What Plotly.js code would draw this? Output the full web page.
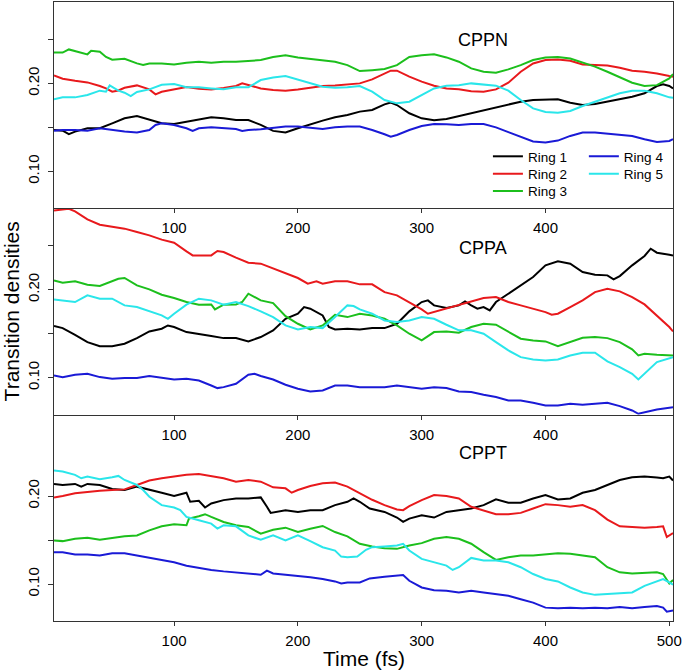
<!DOCTYPE html>
<html><head><meta charset="utf-8">
<script src="https://cdn.plot.ly/plotly-3.0.1.min.js"></script>
<style>html,body{margin:0;padding:0;background:#fff}</style>
</head><body>
<div id="chart" style="width:685px;height:672px"></div>
<script>
const ringNames = ["Ring 1", "Ring 2", "Ring 3", "Ring 4", "Ring 5"];
const ringColors = ["#000000", "#e8191c", "#1cbf1c", "#1a1ad6", "#2ae6ea"];
const panelNames = ["CPPN", "CPPA", "CPPT"];
const yTickVals = [0.10, 0.15, 0.20, 0.25];
const yTickText = ["0.10", "", "0.20", ""];
const xTickVals = [100, 200, 300, 400, 500];

// [time (fs), transition density]
const cppnRing1 = [[3,0.147],[10,0.1463],[15,0.1422],[20,0.1452],[30,0.149],[40,0.149],[50,0.1546],[60,0.1603],[70,0.163],[80,0.1592],[90,0.1546],[100,0.1539],[110,0.1565],[120,0.1592],[130,0.1614],[140,0.1603],[150,0.1584],[160,0.1584],[170,0.1528],[180,0.146],[190,0.1441],[200,0.149],[210,0.1535],[220,0.1577],[230,0.1614],[240,0.1641],[250,0.1679],[260,0.1698],[270,0.1762],[275,0.1781],[280,0.1754],[290,0.166],[300,0.1603],[310,0.158],[320,0.1596],[330,0.163],[340,0.166],[350,0.1698],[360,0.1728],[370,0.1762],[380,0.1792],[390,0.1811],[400,0.1811],[410,0.1819],[420,0.1781],[430,0.1754],[440,0.1766],[450,0.1792],[460,0.1819],[470,0.1849],[480,0.1887],[490,0.197],[495,0.1989],[500,0.197],[503,0.1943]];
const cppnRing2 = [[3,0.209],[10,0.2053],[20,0.203],[30,0.2011],[40,0.197],[45,0.1943],[50,0.1906],[55,0.192],[60,0.195],[70,0.1977],[80,0.1932],[85,0.1875],[90,0.1905],[100,0.1936],[110,0.196],[120,0.194],[130,0.193],[140,0.1947],[150,0.197],[155,0.2],[160,0.198],[170,0.1943],[180,0.1924],[190,0.1917],[200,0.193],[210,0.195],[220,0.197],[230,0.1977],[240,0.1992],[250,0.2],[260,0.2045],[270,0.2113],[275,0.2144],[280,0.2144],[290,0.2076],[300,0.202],[310,0.1974],[320,0.1943],[330,0.1932],[340,0.191],[350,0.1906],[360,0.1932],[370,0.2008],[380,0.2132],[390,0.2227],[400,0.2265],[410,0.2272],[420,0.2257],[430,0.2215],[440,0.2208],[450,0.2204],[460,0.2178],[470,0.2144],[480,0.2132],[490,0.2113],[500,0.2083],[503,0.2076]];
const cppnRing3 = [[3,0.235],[10,0.235],[15,0.2386],[20,0.237],[30,0.233],[33,0.237],[40,0.236],[45,0.23],[50,0.227],[60,0.228],[70,0.2227],[75,0.221],[80,0.2227],[90,0.2227],[100,0.2215],[110,0.2234],[120,0.2246],[130,0.2234],[140,0.2246],[150,0.2246],[160,0.2253],[170,0.2265],[180,0.23],[190,0.232],[200,0.2295],[210,0.228],[220,0.2265],[230,0.2246],[240,0.2208],[250,0.214],[260,0.215],[270,0.2163],[280,0.2208],[290,0.23],[300,0.232],[310,0.233],[320,0.2295],[330,0.2246],[340,0.217],[350,0.2132],[360,0.212],[370,0.2159],[380,0.2208],[390,0.2265],[400,0.2295],[410,0.23],[420,0.2283],[430,0.2238],[440,0.219],[450,0.2132],[460,0.2068],[470,0.2008],[480,0.197],[490,0.198],[500,0.2057],[503,0.2106]];
const cppnRing4 = [[3,0.1463],[10,0.147],[20,0.147],[30,0.1463],[40,0.149],[50,0.147],[60,0.1452],[70,0.1441],[80,0.147],[85,0.1528],[90,0.1546],[100,0.1528],[110,0.149],[115,0.146],[120,0.149],[130,0.15],[140,0.149],[150,0.1482],[155,0.146],[160,0.147],[170,0.1478],[180,0.149],[190,0.1509],[200,0.1509],[210,0.1497],[220,0.1482],[230,0.15],[240,0.1509],[250,0.1509],[260,0.147],[270,0.1422],[275,0.1395],[280,0.1414],[290,0.147],[300,0.1516],[310,0.1539],[320,0.1535],[330,0.1528],[340,0.1539],[350,0.1539],[360,0.15],[370,0.1444],[380,0.1388],[390,0.1339],[400,0.1327],[410,0.135],[420,0.1403],[430,0.1441],[440,0.1441],[450,0.1426],[460,0.1414],[470,0.1403],[480,0.1365],[490,0.1335],[500,0.1346],[503,0.1365]];
const cppnRing5 = [[3,0.1819],[10,0.1841],[20,0.1841],[30,0.1868],[40,0.1917],[45,0.1906],[48,0.1977],[55,0.1917],[60,0.1894],[65,0.1856],[70,0.1902],[80,0.1932],[90,0.1985],[100,0.1992],[110,0.1955],[120,0.1955],[130,0.1943],[140,0.1932],[150,0.1955],[160,0.1955],[170,0.2038],[180,0.2068],[190,0.2083],[200,0.2045],[210,0.2],[220,0.1962],[230,0.1951],[240,0.1955],[250,0.197],[260,0.1906],[270,0.1811],[280,0.1773],[290,0.1792],[300,0.1868],[310,0.1943],[320,0.1974],[330,0.198],[340,0.2],[350,0.1989],[360,0.1974],[370,0.1917],[380,0.1811],[390,0.1716],[400,0.1675],[410,0.1667],[420,0.1686],[430,0.1743],[440,0.1792],[450,0.1841],[460,0.1887],[470,0.1917],[480,0.1917],[490,0.1887],[500,0.1841],[503,0.1838]];

const cppaRing1 = [[3,0.1587],[10,0.1564],[20,0.1488],[30,0.1405],[40,0.1359],[50,0.1359],[60,0.1386],[70,0.145],[80,0.1526],[90,0.1557],[95,0.1594],[100,0.1576],[110,0.1519],[120,0.15],[130,0.1473],[140,0.145],[150,0.145],[160,0.1413],[170,0.1462],[180,0.1538],[190,0.167],[200,0.1727],[205,0.1803],[210,0.1784],[220,0.1708],[225,0.1576],[230,0.1549],[240,0.1557],[250,0.1549],[260,0.1564],[270,0.1564],[280,0.1613],[290,0.1754],[300,0.186],[305,0.1879],[310,0.1822],[320,0.1792],[330,0.1822],[335,0.1867],[340,0.1822],[345,0.1784],[350,0.1803],[355,0.1765],[360,0.186],[370,0.1955],[380,0.2049],[390,0.2144],[400,0.2277],[410,0.2322],[420,0.2296],[430,0.2201],[440,0.2171],[450,0.2163],[455,0.2117],[460,0.2155],[470,0.2277],[480,0.2383],[485,0.2466],[490,0.2421],[500,0.2398],[503,0.239]];
const cppaRing2 = [[3,0.29],[10,0.2913],[15,0.292],[20,0.289],[25,0.2845],[30,0.28],[40,0.2739],[50,0.2713],[60,0.2694],[70,0.2656],[80,0.2618],[90,0.2569],[100,0.2534],[110,0.2436],[115,0.239],[120,0.239],[130,0.239],[135,0.244],[140,0.2428],[150,0.2364],[160,0.2307],[170,0.2296],[180,0.2239],[190,0.2182],[200,0.2133],[208,0.2068],[215,0.2095],[220,0.2068],[230,0.2095],[240,0.2095],[250,0.2061],[260,0.2061],[270,0.1973],[280,0.1936],[290,0.186],[300,0.1776],[305,0.1727],[310,0.1746],[320,0.1784],[330,0.1822],[340,0.186],[350,0.1905],[360,0.1917],[370,0.186],[380,0.1822],[390,0.1784],[400,0.1746],[405,0.1716],[410,0.1727],[420,0.1803],[430,0.1879],[440,0.1973],[450,0.2011],[460,0.1981],[470,0.1917],[480,0.1833],[490,0.1708],[500,0.1576],[503,0.1526]];
const cppaRing3 = [[3,0.2106],[10,0.208],[20,0.2095],[30,0.2057],[40,0.2042],[50,0.2095],[55,0.2125],[60,0.2133],[70,0.2049],[80,0.2004],[90,0.1943],[100,0.1905],[110,0.186],[120,0.183],[130,0.1833],[133,0.1776],[140,0.183],[150,0.1833],[155,0.186],[160,0.1955],[170,0.1879],[180,0.1848],[190,0.17],[200,0.1613],[210,0.1549],[220,0.1594],[230,0.1716],[240,0.1689],[250,0.1727],[260,0.1708],[270,0.167],[280,0.1594],[290,0.15],[300,0.1424],[310,0.1519],[320,0.1526],[330,0.1511],[340,0.1576],[350,0.1613],[360,0.1602],[370,0.1519],[380,0.1443],[390,0.1424],[400,0.1413],[410,0.1359],[420,0.1405],[430,0.1454],[440,0.1462],[450,0.145],[460,0.1405],[470,0.1322],[475,0.1253],[480,0.1272],[490,0.1261],[503,0.1253]];
const cppaRing4 = [[3,0.1026],[10,0.1007],[20,0.1034],[30,0.1045],[40,0.1007],[50,0.0988],[60,0.0996],[70,0.0996],[80,0.1019],[90,0.0996],[100,0.098],[110,0.0988],[120,0.0969],[130,0.0912],[135,0.0882],[140,0.0893],[150,0.0931],[160,0.1034],[165,0.1045],[170,0.1019],[180,0.098],[190,0.092],[200,0.0874],[210,0.0844],[220,0.0855],[230,0.0912],[240,0.0912],[250,0.0893],[260,0.0893],[270,0.0893],[280,0.0912],[290,0.0893],[300,0.0874],[310,0.0893],[320,0.0882],[330,0.0844],[340,0.0837],[350,0.0806],[360,0.078],[370,0.0742],[380,0.0742],[390,0.0715],[400,0.0685],[410,0.0685],[420,0.0704],[430,0.0692],[440,0.0704],[450,0.0715],[460,0.0677],[470,0.0628],[475,0.059],[480,0.0609],[490,0.064],[503,0.0666]];
const cppaRing5 = [[3,0.189],[10,0.1879],[20,0.186],[30,0.1936],[40,0.1898],[50,0.1898],[60,0.1822],[70,0.1803],[80,0.1754],[90,0.1708],[95,0.167],[100,0.1727],[110,0.183],[120,0.1898],[130,0.1879],[140,0.183],[150,0.186],[160,0.1814],[170,0.1754],[180,0.1689],[190,0.1594],[200,0.1549],[210,0.1576],[220,0.1564],[230,0.1689],[240,0.1822],[245,0.1814],[250,0.1776],[260,0.1727],[270,0.1651],[280,0.1632],[290,0.1651],[300,0.1689],[310,0.167],[320,0.1602],[330,0.1538],[340,0.1538],[350,0.15],[360,0.1405],[370,0.131],[380,0.1234],[390,0.1208],[400,0.1197],[410,0.1208],[420,0.1253],[430,0.1284],[440,0.1284],[450,0.1185],[460,0.1121],[470,0.1045],[475,0.098],[480,0.1045],[490,0.1178],[503,0.1234]];

const cpptRing1 = [[3,0.2138],[10,0.2126],[20,0.2138],[25,0.2107],[30,0.2138],[40,0.2126],[50,0.208],[60,0.2069],[70,0.2107],[80,0.2076],[90,0.2038],[100,0.2],[110,0.2038],[113,0.1935],[120,0.1947],[125,0.187],[130,0.1916],[140,0.1954],[150,0.1973],[160,0.1973],[170,0.1985],[175,0.1878],[178,0.1809],[190,0.184],[200,0.182],[210,0.184],[220,0.184],[230,0.1897],[240,0.1935],[245,0.1973],[250,0.1935],[258,0.1859],[270,0.182],[280,0.1756],[285,0.1706],[290,0.1744],[300,0.1782],[310,0.1756],[320,0.182],[330,0.184],[340,0.1859],[350,0.1897],[360,0.1962],[370,0.1924],[380,0.1924],[390,0.1973],[400,0.2011],[410,0.1962],[420,0.1973],[430,0.2038],[440,0.2069],[450,0.2126],[460,0.2183],[470,0.2214],[480,0.2222],[490,0.221],[495,0.2202],[500,0.2222],[503,0.2176]];
const cpptRing2 = [[3,0.1985],[10,0.2],[20,0.2031],[30,0.205],[40,0.2061],[50,0.2069],[60,0.2076],[70,0.2126],[80,0.2176],[90,0.2202],[100,0.2222],[110,0.2241],[120,0.2252],[130,0.2229],[140,0.2202],[150,0.2164],[160,0.2183],[170,0.2164],[180,0.2099],[190,0.2088],[195,0.2038],[200,0.2069],[210,0.2115],[220,0.2145],[230,0.2153],[240,0.2107],[250,0.2031],[260,0.1958],[270,0.1897],[280,0.1847],[285,0.184],[290,0.1885],[300,0.1954],[310,0.2011],[320,0.2],[330,0.1973],[340,0.1878],[350,0.184],[360,0.1794],[370,0.1794],[380,0.1809],[390,0.1859],[400,0.1908],[410,0.1897],[420,0.1878],[430,0.1897],[440,0.184],[450,0.1733],[460,0.1656],[470,0.1649],[480,0.1641],[490,0.1649],[495,0.1656],[498,0.1534],[503,0.158]];
const cpptRing3 = [[3,0.1496],[10,0.1488],[20,0.1515],[30,0.1526],[40,0.1503],[50,0.1526],[60,0.1542],[70,0.1553],[80,0.161],[90,0.1656],[100,0.1679],[110,0.1668],[112,0.1744],[120,0.1771],[125,0.1794],[130,0.1763],[140,0.1706],[150,0.1668],[160,0.1649],[170,0.1572],[180,0.1618],[190,0.1641],[200,0.1591],[210,0.1629],[220,0.166],[230,0.1591],[240,0.1542],[250,0.1458],[260,0.1427],[270,0.1408],[280,0.14],[290,0.1438],[300,0.1465],[310,0.1515],[320,0.1534],[330,0.1515],[340,0.1458],[350,0.1362],[360,0.1274],[370,0.1305],[380,0.1324],[390,0.1324],[400,0.1335],[410,0.1351],[420,0.1343],[430,0.1324],[440,0.1305],[450,0.1191],[460,0.1133],[470,0.1121],[480,0.1125],[490,0.1133],[495,0.1114],[500,0.1007],[503,0.1045]];
const cpptRing4 = [[3,0.1362],[10,0.1362],[20,0.1335],[30,0.1335],[40,0.1324],[50,0.1351],[60,0.1351],[70,0.1324],[80,0.1297],[90,0.1274],[100,0.1247],[110,0.1209],[120,0.1183],[130,0.116],[140,0.1144],[150,0.1133],[160,0.1121],[170,0.1106],[175,0.1152],[180,0.1121],[190,0.1106],[200,0.1095],[210,0.1076],[220,0.1057],[230,0.103],[235,0.1007],[240,0.1018],[250,0.1018],[258,0.1064],[270,0.1083],[280,0.1095],[285,0.1102],[290,0.1037],[300,0.0961],[310,0.093],[320,0.0923],[330,0.0904],[340,0.0923],[350,0.0904],[360,0.0885],[370,0.0866],[380,0.0827],[390,0.0789],[400,0.0732],[410,0.0724],[420,0.0732],[430,0.0724],[440,0.0732],[450,0.0724],[460,0.074],[470,0.0724],[480,0.074],[490,0.0751],[495,0.0732],[498,0.0686],[503,0.0701]];
const cpptRing5 = [[3,0.229],[10,0.2279],[20,0.2241],[25,0.2202],[30,0.2222],[40,0.2191],[50,0.2214],[55,0.2229],[60,0.2183],[70,0.2126],[75,0.2069],[80,0.1992],[90,0.1897],[100,0.187],[105,0.184],[110,0.1763],[120,0.1725],[130,0.1687],[135,0.163],[140,0.1668],[150,0.1656],[160,0.1553],[170,0.1503],[180,0.1553],[190,0.1496],[200,0.1553],[210,0.1488],[220,0.1419],[230,0.1381],[235,0.1312],[240,0.1305],[248,0.1312],[255,0.1389],[260,0.1419],[270,0.1427],[280,0.1438],[285,0.1458],[290,0.1381],[300,0.1286],[310,0.1248],[320,0.121],[325,0.116],[330,0.1191],[340,0.1297],[350,0.1267],[360,0.1267],[370,0.1248],[380,0.1191],[390,0.1114],[400,0.1057],[410,0.103],[420,0.0961],[430,0.0904],[440,0.0877],[450,0.0885],[460,0.0892],[470,0.0904],[480,0.098],[490,0.103],[495,0.1057],[500,0.1018],[503,0.0992]];

const panelSeries = [
  [cppnRing1, cppnRing2, cppnRing3, cppnRing4, cppnRing5],
  [cppaRing1, cppaRing2, cppaRing3, cppaRing4, cppaRing5],
  [cpptRing1, cpptRing2, cpptRing3, cpptRing4, cpptRing5]
];
// panel 0 (top) -> x3/y3, panel 1 -> x2/y2, panel 2 (bottom) -> x/y
const axisIds = [["x3","y3"],["x2","y2"],["x","y"]];
const legendIds = ["legend", "legend2", "legend3", "legend4", "legend5"];

const traces = [];
panelSeries.forEach((series, p) => {
  series.forEach((pts, i) => {
    traces.push({
      x: pts.map(d => d[0]), y: pts.map(d => d[1]),
      xaxis: axisIds[p][0], yaxis: axisIds[p][1],
      type: "scatter", mode: "lines",
      line: {color: ringColors[i], width: 2},
      name: ringNames[i],
      showlegend: p === 0,
      legend: legendIds[i],
      hoverinfo: "skip"
    });
  });
});

const frame = {showline: true, linecolor: "#333", linewidth: 1,
  showgrid: false, zeroline: false, ticks: "outside", tickcolor: "#333"};
function xAx(anchor, vals, mirror) {
  return Object.assign({}, frame, {anchor: anchor, range: [3, 503], tickvals: vals, mirror: mirror,
    ticktext: vals.map(String), ticklen: 4, ticklabelstandoff: 2, tickfont: {size: 15}});
}
function yAx(domain, vals, text) {
  return Object.assign({}, frame, {domain: domain, range: [0.058, 0.2925], tickvals: vals, mirror: true,
    ticktext: text, ticklen: 5, tickangle: -90, ticklabelstandoff: 3, tickfont: {size: 15}});
}
const titleY = [0.9386, 0.603, 0.2719];
const annotations = panelNames.map((n, k) => ({text: n, xref: "paper", yref: "paper",
  x: 0.693, y: titleY[k], xanchor: "center", yanchor: "middle", showarrow: false, font: {size: 18}}));
annotations.push({text: "Time (fs)", xref: "paper", yref: "paper", x: 0.5, y: -0.06,
  xanchor: "center", yanchor: "middle", showarrow: false, font: {size: 21}});
annotations.push({text: "Transition densities", xref: "paper", yref: "paper", x: -0.068, y: 0.5,
  xanchor: "center", yanchor: "middle", textangle: -90, showarrow: false, font: {size: 21}});

function leg(x, y) {
  return {x: x, y: y, xanchor: "left", yanchor: "top", bgcolor: "rgba(0,0,0,0)",
    font: {size: 13.5}, tracegroupgap: 0, itemwidth: 30};
}

const layout = {
  width: 685, height: 672,
  margin: {l: 54, r: 12, t: 2, b: 51},
  paper_bgcolor: "#fff", plot_bgcolor: "#fff",
  font: {family: '"Liberation Sans", Arial, sans-serif', size: 15, color: "#000"},
  xaxis: xAx("y", xTickVals, false),
  xaxis2: xAx("y2", xTickVals.slice(0, 4), false),
  xaxis3: xAx("y3", xTickVals.slice(0, 4), true),
  yaxis: yAx([0, 0.3333], yTickVals.slice(0, 3), yTickText.slice(0, 3)),
  yaxis2: yAx([0.3333, 0.6667], yTickVals, yTickText),
  yaxis3: yAx([0.6667, 1], yTickVals, yTickText),
  legend: leg(0.701, 0.7754),
  legend2: leg(0.701, 0.7474),
  legend3: leg(0.701, 0.7194),
  legend4: leg(0.856, 0.7754),
  legend5: leg(0.856, 0.7474),
  annotations: annotations,
  showlegend: true
};
Plotly.newPlot("chart", traces, layout, {displayModeBar: false, staticPlot: true});
</script>
</body></html>
